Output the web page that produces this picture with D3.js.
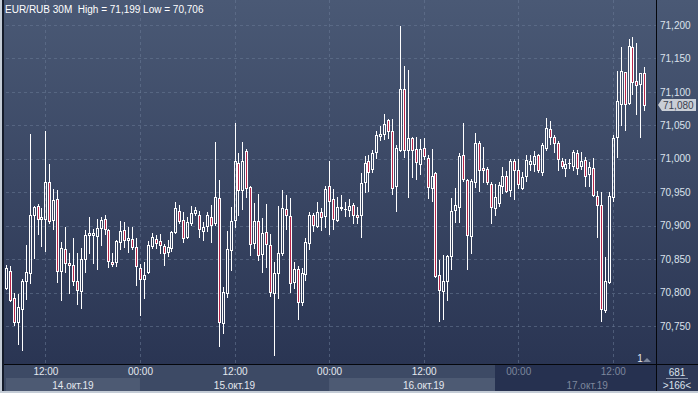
<!DOCTYPE html>
<html>
<head>
<meta charset="utf-8">
<script src="https://cdn.jsdelivr.net/npm/d3@7"></script>
<style>
  body { margin: 0; background: #c4ccd6; }
  svg { display: block; }
  text { font-family: "Liberation Sans", Arial, sans-serif; }
</style>
</head>
<body>
<svg id="chart" width="698" height="393"></svg>
<script>
// EUR/RUB 30M bars, first bar 14.10.2019 07:00
var startTime = new Date(2019, 9, 14, 7, 0)
var opens = [70.8065,70.8315,70.7915,70.756,70.776,70.8175,70.8285,70.916,70.929,70.91,
  70.91,70.966,70.909,70.94,70.8325,70.865,70.8445,70.8415,70.8175,70.8025,
  70.85,70.886,70.8865,70.885,70.8965,70.91,70.8935,70.846,70.845,70.876,
  70.8935,70.879,70.88,70.8675,70.8365,70.82,70.83,70.87,70.88,70.8765,
  70.87,70.86,70.8665,70.89,70.9215,70.9085,70.8825,70.904,70.919,70.916,
  70.8915,70.899,70.9135,70.9035,70.9415,70.754,70.8,70.8635,70.909,70.994,
  70.9535,71.011,70.9585,70.8735,70.9075,70.8575,70.891,70.8715,70.8,70.829,
  70.8585,70.925,70.915,70.8165,70.835,70.7865,70.8275,70.874,70.916,70.9,
  70.92,70.915,70.959,70.94,70.909,70.9265,70.9245,70.9235,70.931,70.916,
  70.916,70.965,70.996,70.985,71.01,71.034,71.0375,71.0585,71.041,70.959,
  71.0125,71.104,71.0125,71.0315,71.014,70.9925,71.0165,71.0015,70.956,70.9785,
  70.826,70.8025,70.8175,70.855,70.9235,70.9275,71.005,70.9685,70.884,70.965,
  71.024,70.9865,70.985,70.9625,70.926,70.934,70.96,70.975,70.954,70.9965,
  70.9825,70.9565,70.974,70.9915,70.9915,71.005,70.98,71.0165,71.045,71.0325,
  71.024,70.9965,70.9865,70.994,70.989,71.0085,70.989,70.9985,70.9775,70.9865,
  70.945,70.931,70.774,70.8165,70.9425,71.0325,71.0825,71.129,71.084,71.1675,
  71.1165,71.1115,71.1275]
var highs = [70.841,70.839,70.799,70.7975,70.821,70.871,71.0365,70.93,70.9325,70.926,
  71.041,70.9925,70.955,70.954,70.876,70.8985,70.859,70.881,70.859,70.8665,
  70.894,70.9135,70.895,70.91,70.9135,70.916,70.895,70.859,70.879,70.9065,
  70.906,70.8975,70.8975,70.881,70.8425,70.845,70.8775,70.889,70.886,70.8875,
  70.8725,70.879,70.8925,70.936,70.931,70.92,70.9125,70.929,70.9275,70.9225,
  70.905,70.92,70.9315,71.025,70.969,70.8085,70.8925,70.9285,71.0535,71.0085,
  71.025,71.015,70.96,70.934,70.9475,70.911,70.9325,70.8875,70.845,70.93,
  70.954,70.9465,70.941,70.846,70.839,70.8365,70.881,70.92,70.9185,70.935,
  70.9265,70.959,70.9965,70.955,70.9425,70.946,70.935,70.94,70.934,70.9275,
  70.979,71.004,71.005,71.0125,71.041,71.0485,71.0675,71.06,71.059,71.02,
  71.199,71.1385,71.1325,71.0325,71.0325,71.029,71.0315,71.005,71.015,70.98,
  70.849,70.8565,70.856,70.941,70.956,71.009,71.0535,70.97,70.97,71.0385,
  71.026,71.0175,70.9875,70.965,70.9625,70.965,70.9875,70.9815,70.999,70.999,
  70.999,70.98,71.005,71.006,71.011,71.0075,71.0235,71.061,71.056,71.035,
  71.026,71.001,71.0,70.999,71.0125,71.0135,71.01,71.0025,70.995,71.0015,
  70.9525,70.95,70.8525,70.95,71.035,71.131,71.1675,71.13,71.1785,71.1815,
  71.1735,71.1285,71.1365]
var lows = [70.805,70.7875,70.751,70.7225,70.7135,70.79,70.814,70.8515,70.8875,70.87,
  70.8625,70.904,70.895,70.8165,70.789,70.831,70.8,70.811,70.7825,70.7775,
  70.831,70.859,70.844,70.835,70.871,70.8875,70.8375,70.839,70.84,70.865,
  70.8675,70.861,70.865,70.811,70.766,70.7925,70.829,70.866,70.8665,70.859,
  70.841,70.854,70.8625,70.889,70.904,70.875,70.881,70.901,70.916,70.8825,
  70.879,70.8925,70.876,70.901,70.72,70.74,70.794,70.834,70.8975,70.9165,
  70.925,70.9425,70.856,70.8665,70.8485,70.83,70.8375,70.795,70.706,70.7925,
  70.856,70.895,70.801,70.8075,70.761,70.781,70.819,70.865,70.8915,70.8975,
  70.8935,70.8975,70.8875,70.895,70.9065,70.924,70.914,70.915,70.9035,70.904,
  70.8825,70.95,70.9525,70.98,71.001,71.0275,71.029,71.031,70.9475,70.9225,
  71.011,71.0025,70.9425,70.9725,70.97,70.9775,71.0,70.941,70.9375,70.824,
  70.7575,70.76,70.789,70.835,70.906,70.905,70.9675,70.835,70.859,70.9575,
  70.9515,70.966,70.9625,70.904,70.9165,70.93,70.9485,70.95,70.945,70.94,
  70.956,70.955,70.9665,70.9825,70.9815,70.98,70.976,71.0135,71.0225,71.01,
  70.9825,70.986,70.975,70.9865,70.9825,70.9775,70.984,70.959,70.959,70.945,
  70.8825,70.7575,70.771,70.815,70.9375,71.0025,71.051,71.0425,71.0825,71.0975,
  71.0665,71.0325,71.0725]
var closes = [70.8365,70.7885,70.756,70.7785,70.8175,70.831,70.916,70.9275,70.91,70.9125,
  70.966,70.9065,70.939,70.8325,70.8665,70.844,70.841,70.8175,70.804,70.85,
  70.8865,70.889,70.8885,70.896,70.909,70.895,70.8465,70.8425,70.8775,70.8925,
  70.8785,70.881,70.8675,70.84,70.82,70.826,70.8715,70.8825,70.8735,70.871,
  70.859,70.8685,70.891,70.9265,70.9065,70.881,70.906,70.919,70.9235,70.895,
  70.8985,70.916,70.901,70.9425,70.756,70.8015,70.865,70.9075,70.996,70.9535,
  70.9965,70.956,70.8725,70.9075,70.856,70.889,70.8725,70.801,70.829,70.859,
  70.926,70.916,70.815,70.835,70.786,70.829,70.876,70.9165,70.901,70.92,
  70.9135,70.955,70.9375,70.91,70.9275,70.9275,70.9255,70.93,70.9165,70.9125,
  70.964,70.994,70.98,71.0085,71.035,71.0365,71.0525,71.041,70.956,71.0165,
  71.105,71.0125,71.0315,71.0135,70.995,71.015,71.004,70.9575,70.974,70.825,
  70.8035,70.8175,70.854,70.9225,70.931,71.0035,70.97,70.886,70.9665,71.0235,
  70.9835,70.9835,70.965,70.9275,70.9425,70.961,70.975,70.9525,70.9965,70.9835,
  70.9625,70.9735,70.9975,70.9965,71.0035,70.9825,71.02,71.0465,71.0325,71.024,
  70.999,70.9885,70.9915,70.994,71.01,70.986,70.9965,70.975,70.9875,70.946,
  70.931,70.776,70.8175,70.945,71.0315,71.086,71.131,71.0825,71.1685,71.115,
  71.111,71.1275,71.08]

var priceTicks = [70.75, 70.8, 70.85, 70.9, 70.95, 71.0, 71.05, 71.1, 71.15, 71.2]
var dayLabels = ['14.окт.19', '15.окт.19', '16.окт.19', '17.окт.19']
var titleText = 'EUR/RUB 30M  High = 71,199 Low = 70,706'
var lastPrice = 71.080
var barsInfo = ['681', '>166<']

var bars = opens.map(function (o, i) {
    return {
        time: d3.timeMinute.offset(startTime, 30 * i),
        open: o, high: highs[i], low: lows[i], close: closes[i]
    }
})

var svg = d3.select('#chart')
var plotL = 4, plotR = 656, plotB = 364, W = 698, H = 393

var defs = svg.append('defs')
var grad = defs.append('linearGradient').attr('id', 'bg')
    .attr('x1', 0).attr('y1', 0).attr('x2', 0).attr('y2', 1)
grad.append('stop').attr('offset', '0%').attr('stop-color', '#4a5975')
grad.append('stop').attr('offset', '100%').attr('stop-color', '#2a3553')

// frame + backgrounds
svg.append('rect').attr('width', W).attr('height', H).attr('fill', '#c4ccd6')
svg.append('rect').attr('x', plotL).attr('y', 0).attr('width', W - plotL).attr('height', plotB)
    .attr('fill', 'url(#bg)')
svg.append('rect').attr('x', 2).attr('y', 0).attr('width', 2).attr('height', H - 2).attr('fill', '#141b2a')

var x = d3.scaleTime()
    .domain([bars[0].time, bars[bars.length - 1].time])
    .range([6, 644.3])
var y = d3.scaleLinear().domain([70.75, 71.2]).range([326, 25])

var fmtPrice = function (v) { return d3.format('.3f')(v).replace('.', ',') }

// grid
var timeTicks = d3.timeHour.every(12).range(bars[0].time, bars[bars.length - 1].time)
svg.append('g').attr('class', 'grid')
    .selectAll('line.h').data(priceTicks).enter().append('line')
    .attr('x1', plotL + 2).attr('x2', plotR)
    .attr('y1', function (d) { return Math.round(y(d)) + 0.5 })
    .attr('y2', function (d) { return Math.round(y(d)) + 0.5 })
svg.select('g.grid')
    .selectAll('line.v').data(timeTicks).enter().append('line')
    .attr('y1', 0).attr('y2', plotB)
    .attr('x1', function (d) { return Math.round(x(d)) + 0.5 })
    .attr('x2', function (d) { return Math.round(x(d)) + 0.5 })
svg.selectAll('g.grid line')
    .attr('stroke', '#6a7a96').attr('stroke-opacity', 0.55)
    .attr('stroke-dasharray', '3,3').attr('stroke-width', 1)

// candles
var cg = svg.append('g')
bars.forEach(function (d) {
    var cx = Math.round(x(d.time))
    var top = Math.round(y(Math.max(d.open, d.close)))
    var bot = Math.round(y(Math.min(d.open, d.close)))
    var hi = Math.round(y(d.high)), lo = Math.round(y(d.low))
    var up = d.close >= d.open
    cg.append('line').attr('x1', cx + 0.5).attr('x2', cx + 0.5)
        .attr('y1', hi).attr('y2', top).attr('stroke', '#fff')
    cg.append('line').attr('x1', cx + 0.5).attr('x2', cx + 0.5)
        .attr('y1', bot + 1).attr('y2', lo + 1).attr('stroke', '#fff')
    if (bot - top < 1) {
        cg.append('line').attr('x1', cx - 1).attr('x2', cx + 2)
            .attr('y1', top + 0.5).attr('y2', top + 0.5).attr('stroke', '#fff')
    } else {
        cg.append('rect').attr('x', cx - 0.5).attr('y', top + 0.5)
            .attr('width', 2).attr('height', bot - top)
            .attr('fill', up ? 'none' : '#b8264a').attr('stroke', '#fff')
    }
})

// right price axis
svg.append('line').attr('x1', plotR + 0.5).attr('x2', plotR + 0.5)
    .attr('y1', 0).attr('y2', H - 2).attr('stroke', '#05070c')
var yAxis = d3.axisRight(y).tickValues(priceTicks).tickSize(0).tickPadding(0).tickFormat(fmtPrice)
var yg = svg.append('g').attr('transform', 'translate(' + (plotR + 4) + ',0)').call(yAxis)
yg.select('.domain').remove()
yg.selectAll('text').attr('fill', '#dbe2ec').attr('font-size', 10)
    .attr('font-family', '"Liberation Sans", Arial, sans-serif')

// last price tag
var ly = Math.round(y(lastPrice))
svg.append('path')
    .attr('d', 'M' + (plotR + 2) + ',' + ly + 'L' + (plotR + 6) + ',' + (ly - 6) + 'H696V' + (ly + 6) + 'H' + (plotR + 6) + 'Z')
    .attr('fill', '#c9ced6')
svg.append('text').attr('x', plotR + 7).attr('y', ly + 4).text(fmtPrice(lastPrice))
    .attr('font-size', 10).attr('fill', '#3a4150')

// title
svg.append('text').attr('x', 5).attr('y', 13).text(titleText)
    .attr('font-size', 10).attr('fill', '#ffffff').style('white-space', 'pre')

// bottom time strip
var stripTop = plotB + 1
svg.append('rect').attr('x', plotL).attr('y', stripTop).attr('width', plotR - plotL).attr('height', H - 2 - stripTop)
    .attr('fill', '#3d4a65')
var days = d3.timeDay.range(d3.timeDay.floor(bars[0].time), bars[bars.length - 1].time)
days.forEach(function (day, i) {
    var x0 = Math.max(plotL + 2, x(day))
    var x1 = Math.min(plotR, x(d3.timeDay.offset(day, 1)))
    var last = i === days.length - 1
    if (i % 2 === 0) {
        svg.append('rect').attr('x', x0).attr('y', 378).attr('width', x1 - x0).attr('height', 13)
            .attr('fill', '#4d5a73')
    }
    svg.append('text').attr('x', (x0 + x1) / 2).attr('y', 389)
        .attr('text-anchor', 'middle').attr('font-size', 10)
        .attr('class', last ? 'dim' : '')
        .attr('fill', '#e4e8ef').text(dayLabels[i])
})
// highlighted current-day zone
svg.insert('rect', 'text.dim').attr('x', 495).attr('y', stripTop).attr('width', plotR - 495).attr('height', H - 2 - stripTop)
    .attr('fill', '#263150')
svg.selectAll('text.dim').attr('fill', '#7d879c')

var xAxis = d3.axisBottom(x).tickValues(timeTicks).tickSize(0).tickPadding(0)
    .tickFormat(d3.timeFormat('%H:%M'))
var xg = svg.append('g').attr('transform', 'translate(0,' + (stripTop + 3) + ')').call(xAxis)
xg.select('.domain').remove()
xg.selectAll('text').attr('font-size', 10)
    .attr('font-family', '"Liberation Sans", Arial, sans-serif')
    .attr('fill', function (d) { return x(d) > 495 ? '#7d879c' : '#e4e8ef' })

svg.append('line').attr('x1', plotL).attr('x2', W).attr('y1', plotB + 0.5).attr('y2', plotB + 0.5)
    .attr('stroke', '#05070c')

// right-bottom counter box
svg.append('rect').attr('x', plotR + 1).attr('y', stripTop).attr('width', W - plotR - 1).attr('height', H - 2 - stripTop)
    .attr('fill', '#2d3856')
svg.append('text').attr('x', 677).attr('y', 376).attr('text-anchor', 'middle')
    .attr('font-size', 10).attr('fill', '#dbe2ec').text(barsInfo[0])
svg.append('line').attr('x1', 666).attr('x2', 688).attr('y1', 378.5).attr('y2', 378.5)
    .attr('stroke', '#8a94a8')
svg.append('text').attr('x', 677).attr('y', 389).attr('text-anchor', 'middle')
    .attr('font-size', 10).attr('fill', '#dbe2ec').text(barsInfo[1])

// shift marker
svg.append('text').attr('x', 640).attr('y', 362).attr('text-anchor', 'middle')
    .attr('font-size', 10).attr('fill', '#e4e8ef').text('1')
svg.append('path').attr('d', 'M643,362L647,358L651,362Z').attr('fill', '#7d879c')
</script>
</body>
</html>
